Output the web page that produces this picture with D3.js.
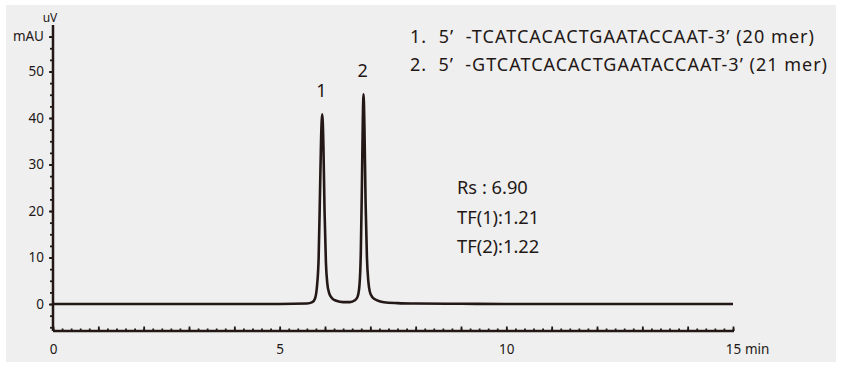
<!DOCTYPE html>
<html><head><meta charset="utf-8">
<script src="https://cdn.jsdelivr.net/npm/d3@7"></script>
<style>body{margin:0;background:#fff}svg{display:block}text{font-family:"Noto Sans","Open Sans",sans-serif}</style>
</head><body><svg id="c" width="845" height="369"></svg>
<script>
// Chromatogram samples: time (min) and signal (mAU)
const times = [0,1,2,3,4,5,5.6,5.72,5.78,5.82,5.86,5.89,5.915,5.94,5.965,5.99,6.02,6.05,6.09,6.15,6.25,6.4,6.55,6.66,6.72,6.76,6.79,6.815,6.835,6.85,6.87,6.895,6.925,6.955,6.99,7.05,7.15,7.3,7.6,8,9,10,11,12,13,14,15];
const signal = [0,0,0,0,0,0,0.1,0.4,1.2,3.5,10,24,36,40.8,34,20,9,4.5,2.4,1.3,0.7,0.4,0.4,0.8,1.6,4,11,26,40,45.1,38,22,10,5,2.6,1.4,0.8,0.4,0.2,0.1,0.05,0,0,0,0,0,0];
const peakLabels = ["1","2"];
const peakTimes = [5.94,6.85];
const peakHeights = [40.8,45.1];
const yTicks = [0,10,20,30,40,50];
const xTicks = [0,5,10,15];
const legendLines = ["1.  5\u2019  -TCATCACACTGAATACCAAT-3\u2019 (20 mer)","2.  5\u2019  -GTCATCACACTGAATACCAAT-3\u2019 (21 mer)"];
const statLines = ["Rs : 6.90","TF(1):1.21","TF(2):1.22"];

const ink = "#231815";
const svg = d3.select("#c");
svg.append("rect").attr("x",6).attr("y",5).attr("width",830).attr("height",357).attr("fill","#efefef");

const x = d3.scaleLinear().domain([0,15]).range([53,733]);
const y = d3.scaleLinear().domain([-5.8,60]).range([331,25]);

// y axis
const gy = svg.append("g").attr("transform","translate(53,0)");
gy.call(d3.axisLeft(y).tickValues(d3.range(-5,58,2.5)).tickSize(3).tickFormat(""));
gy.call(g=>g.select(".domain").remove());
const gy2 = svg.append("g").attr("transform","translate(53,0)");
gy2.call(d3.axisLeft(y).tickValues(yTicks.concat([57.5])).tickSize(4).tickPadding(5)
  .tickFormat(d=>d===57.5?"mAU":d));
gy2.select(".domain").remove();
gy2.selectAll("text").attr("font-size",13.5).attr("fill",ink);
svg.append("line").attr("x1",53).attr("x2",53).attr("y1",25).attr("y2",331).attr("stroke",ink).attr("stroke-width",2.5);
svg.append("text").attr("x",50).attr("y",22).attr("text-anchor","middle").attr("font-size",12).attr("fill",ink).text("uV");

// x axis
const gx = svg.append("g").attr("transform","translate(0,331)");
gx.call(d3.axisTop(x).tickValues(d3.range(0,15.01,0.2)).tickSize(2.5).tickFormat(""));
gx.select(".domain").remove();
const gx1 = svg.append("g").attr("transform","translate(0,331)");
gx1.call(d3.axisTop(x).tickValues(d3.range(0,16,1)).tickSize(4.5).tickFormat(""));
gx1.select(".domain").remove();
const gx2 = svg.append("g").attr("transform","translate(0,331)");
gx2.call(d3.axisBottom(x).tickValues(xTicks).tickSize(0).tickPadding(13));
gx2.select(".domain").remove();
gx2.selectAll("text").attr("font-size",13.5).attr("fill",ink).attr("dy",null).attr("y",null)
  .attr("transform","translate(0,23)");
svg.selectAll("g .tick line").attr("stroke",ink).attr("stroke-width",1.8);
svg.append("line").attr("x1",53).attr("x2",734).attr("y1",331).attr("y2",331).attr("stroke",ink).attr("stroke-width",2.5);
svg.append("text").attr("x",745).attr("y",354).attr("font-size",13.5).attr("fill",ink).text("min");

// trace
const pts = times.map((t,i)=>[t,signal[i]]);
svg.append("path").datum(pts)
  .attr("d",d3.line().x(d=>x(d[0])).y(d=>y(d[1])).curve(d3.curveMonotoneX))
  .attr("fill","none").attr("stroke",ink).attr("stroke-width",2.6).attr("stroke-linejoin","round");

// peak labels
svg.selectAll(".pl").data(peakLabels).join("text")
  .attr("x",(d,i)=>x(peakTimes[i])-1).attr("y",(d,i)=>y(peakHeights[i])-17)
  .attr("text-anchor","middle").attr("font-size",18).attr("fill",ink).text(d=>d);

// legend
const legendWidths = [404,417];
svg.selectAll(".lg").data(legendLines).join("text")
  .attr("x",410).attr("y",(d,i)=>43+i*28).attr("font-size",18).attr("fill",ink)
  .attr("textLength",(d,i)=>legendWidths[i]).attr("lengthAdjust","spacing")
  .style("white-space","pre").text(d=>d);

svg.selectAll(".st").data(statLines).join("text")
  .attr("x",457).attr("y",(d,i)=>194+i*29.5).attr("font-size",18.3).attr("fill",ink).text(d=>d);
</script></body></html>
